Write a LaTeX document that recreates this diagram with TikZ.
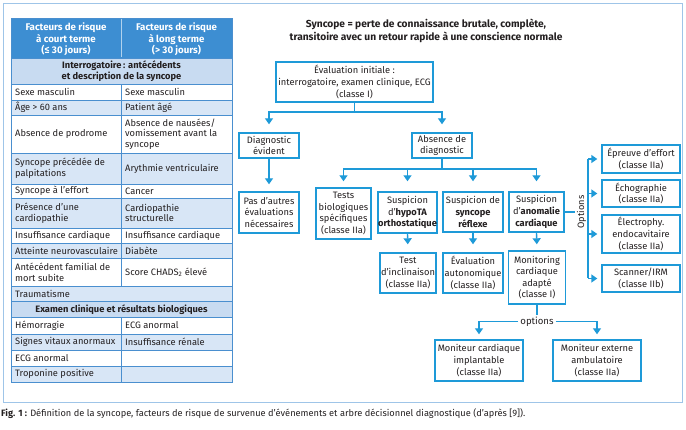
\documentclass[tikz,border=0pt]{standalone}
\usepackage{fontspec}
\setmainfont{Fira Sans}
\usetikzlibrary{arrows.meta}
\definecolor{hdr}{HTML}{3D8ED2}
\definecolor{sec}{HTML}{C8DBF1}
\definecolor{alt}{HTML}{D8E6F6}
\definecolor{gridc}{HTML}{4A8FCF}
\definecolor{bx}{HTML}{1E9AD8}
\definecolor{framec}{HTML}{9FC5E8}
\definecolor{txt}{HTML}{231F20}
\tikzset{
  cell/.style={anchor=west, align=left, inner sep=0pt, font=\fontsize{9.3}{10.7}\selectfont, text=txt},
  gline/.style={draw=gridc, line width=0.8pt},
  hdrtxt/.style={align=center, inner sep=0pt, text=white, font=\bfseries\fontsize{9.7}{11.5}\selectfont},
  sectxt/.style={align=center, inner sep=0pt, text=txt, font=\bfseries\fontsize{9.3}{11}\selectfont},
  box/.style={draw=bx, line width=1.4pt, fill=white, align=center, inner sep=0pt, text=txt, font=\fontsize{9.3}{11.6}\selectfont},
  ln/.style={draw=bx, line width=1.4pt},
  arr/.style={draw=bx, line width=1.4pt, -{Triangle[width=8pt,length=6pt]}},
  lbl/.style={inner sep=2pt, text=txt, font=\fontsize{9.6}{11}\selectfont}
}
\newcommand\tabrow[6]{%
  \draw[gline, fill=#4] (11,#2) rectangle (121,#3);
  \draw[gline, fill=#4] (121,#2) rectangle (232,#3);
  \node[cell] (#1l) at (15,{(#2+#3)/2}) {#5};
  \node[cell] (#1r) at (125,{(#2+#3)/2}) {#6};}
\newcommand\tabspan[5]{%
  \draw[gline, fill=#4] (11,#2) rectangle (232,#3);
  \node[cell] (#1) at (15,{(#2+#3)/2}) {#5};}
\begin{document}
\begin{tikzpicture}[x=1pt,y=-1pt]
\useasboundingbox (0,0) rectangle (686,430);
% outer frame
\draw[framec, line width=0.9pt] (3,3) rectangle (682,402);
% ---------- table ----------
\draw[gline, fill=hdr] (11,18) rectangle (232,58);
\draw[white!60!hdr, line width=0.8pt] (121,19) -- (121,57);
\node[hdrtxt] (h1) at (66,39.5) {Facteurs de risque\\à court terme\\(≤ 30 jours)};
\node[hdrtxt] (h2) at (176.5,39.5) {Facteurs de risque\\à long terme\\(> 30 jours)};
\draw[gline, fill=sec] (11,58) rectangle (232,84);
\node[sectxt] (s1) at (121.5,71.5) {Interrogatoire\,: antécédents\\et description de la syncope};
\tabrow{r1}{84}{100}{white}{Sexe masculin}{Sexe masculin}
\tabrow{r2}{100}{115}{alt}{Âge > 60 ans}{Patient âgé}
\tabrow{r3}{115}{153}{white}{Absence de prodrome}{Absence de nausées/\\vomissement avant la\\syncope}
\tabrow{r4}{153}{184}{alt}{Syncope précédée de\\palpitations}{Arythmie ventriculaire}
\tabrow{r5}{184}{198}{white}{Syncope à l’effort}{Cancer}
\tabrow{r6}{198}{228}{alt}{Présence d’une\\cardiopathie}{Cardiopathie\\structurelle}
\tabrow{r7}{228}{243}{white}{Insuffisance cardiaque}{Insuffisance cardiaque}
\tabrow{r8}{243}{258}{alt}{Atteinte neurovasculaire}{Diabète}
\tabrow{r9}{258}{286}{white}{Antécédent familial de\\mort subite}{Score CHADS\textsubscript{2} élevé}
\tabspan{r10}{286}{301}{alt}{Traumatisme}
\draw[gline, fill=sec] (11,301) rectangle (232,317);
\node[sectxt] (s2) at (121.5,309.5) {Examen clinique et résultats biologiques};
\tabrow{r12}{317}{334}{white}{Hémorragie}{ECG anormal}
\tabrow{r13}{334}{350}{alt}{Signes vitaux anormaux}{Insuffisance rénale}
\tabrow{r14}{350}{366}{white}{ECG anormal}{}
\tabrow{r15}{366}{382}{alt}{Troponine positive}{}
% ---------- flowchart ----------
\node[align=center, inner sep=0pt, text=txt, font=\bfseries\fontsize{10.2}{12.5}\selectfont] (title) at (426,31)
  {Syncope = perte de connaissance brutale, complète,\\transitoire avec un retour rapide à une conscience normale};
\node[box, minimum width=157pt, minimum height=40pt] (eval) at (354.5,82)
  {Évaluation initiale :\\interrogatoire, examen clinique, ECG\\(classe I)};
\node[box, minimum width=60pt, minimum height=25pt] (diag) at (269,145.5) {Diagnostic\\évident};
\node[box, minimum width=60pt, minimum height=25pt] (abs) at (442,145.5) {Absence de\\diagnostic};
\node[box, minimum width=60pt, minimum height=41pt] (pas) at (269,212.5) {Pas d’autres\\évaluations\\nécessaires};
\node[box, minimum width=55pt, minimum height=51pt] (tests) at (343.5,213.5) {Tests\\biologiques\\spécifiques\\(classe IIa)};
\node[box, minimum width=59pt, minimum height=41pt] (hypo) at (407.5,212.5) {Suspicion\\d’\textbf{hypoTA}\\\textbf{orthostatique}};
\node[box, minimum width=60pt, minimum height=40pt] (refl) at (473,212) {Suspicion de\\\textbf{syncope}\\\textbf{réflexe}};
\node[box, minimum width=55pt, minimum height=40pt] (anom) at (536.5,212) {Suspicion\\d’\textbf{anomalie}\\\textbf{cardiaque}};
\node[box, minimum width=56pt, minimum height=40pt] (incl) at (408,273) {Test\\d’inclinaison\\(classe IIa)};
\node[box, minimum width=60pt, minimum height=40pt] (auto) at (473,273) {Évaluation\\autonomique\\(classe IIa)};
\node[box, minimum width=57pt, minimum height=53pt] (moni) at (537,277.5) {Monitoring\\cardiaque\\adapté\\(classe I)};
\node[box, minimum width=78pt, minimum height=28pt] (effort) at (641,159) {Épreuve d’effort\\(classe IIa)};
\node[box, minimum width=78pt, minimum height=27pt] (echo) at (641,193.5) {Échographie\\(classe IIa)};
\node[box, minimum width=78pt, minimum height=38pt] (electro) at (641,234) {Électrophy.\\endocavitaire\\(classe IIa)};
\node[box, minimum width=78pt, minimum height=27pt] (scan) at (641,278.5) {Scanner/IRM\\(classe IIb)};
\node[box, minimum width=88pt, minimum height=41pt] (mci) at (479,360.5) {Moniteur cardiaque\\implantable\\(classe IIa)};
\node[box, minimum width=88pt, minimum height=41pt] (mea) at (597,360.5) {Moniteur externe\\ambulatoire\\(classe IIa)};
% connectors
\coordinate (j1) at (354.5,112);
\draw[ln] (eval.south) -- (j1);
\draw[arr, shorten >=8pt] (j1) -| (diag.north);
\draw[arr, shorten >=8pt] (j1) -| (abs.north);
\draw[arr, shorten >=7pt] (diag.south) -- (pas.north);
\coordinate (j2) at (442,169);
\draw[ln] (abs.south) -- (j2);
\draw[arr, shorten >=6pt] (j2) -| (tests.north);
\draw[arr, shorten >=10pt] (j2) -| (hypo.north);
\draw[arr, shorten >=10pt] (j2) -| (refl.north);
\draw[arr, shorten >=10pt] (j2) -| (anom.north);
\draw[arr, shorten >=8pt] (hypo.south) -- (incl.north);
\draw[arr, shorten >=8pt] (refl.south) -- (auto.north);
\draw[arr, shorten >=6pt] (anom.south) -- (moni.north);
% Options bracket
\node[lbl, rotate=90, inner sep=1.5pt, font=\fontsize{9.2}{11}\selectfont] (optv) at (581.5,212) {Options};
\draw[ln] (anom.east) -- (optv.north);
\coordinate (b1) at (588,159);
\coordinate (b4) at (588,278.5);
\draw[ln] (b1) -- (b4);
\draw[arr, shorten >=4pt] (b1) -- (effort.west);
\draw[arr, shorten >=4pt] (echo.west -| b1) -- (echo.west);
\draw[arr, shorten >=4pt] (electro.west -| b1) -- (electro.west);
\draw[arr, shorten >=4pt] (b4) -- (scan.west);
% bottom options
\node[lbl] (opt2) at (537,321.5) {options};
\draw[ln] (moni.south) -- (opt2.north);
\draw[arr, shorten >=5pt] (opt2.west) -| (mci.north);
\draw[arr, shorten >=5pt] (opt2.east) -| (mea.north);
% caption
\node[anchor=west, inner sep=0pt, text=txt, font=\fontsize{9.25}{10}\selectfont] (cap) at (1,414)
  {\textbf{Fig. 1 :} Définition de la syncope, facteurs de risque de survenue d’événements et arbre décisionnel diagnostique (d’après [9]).};
\end{tikzpicture}
\end{document}
